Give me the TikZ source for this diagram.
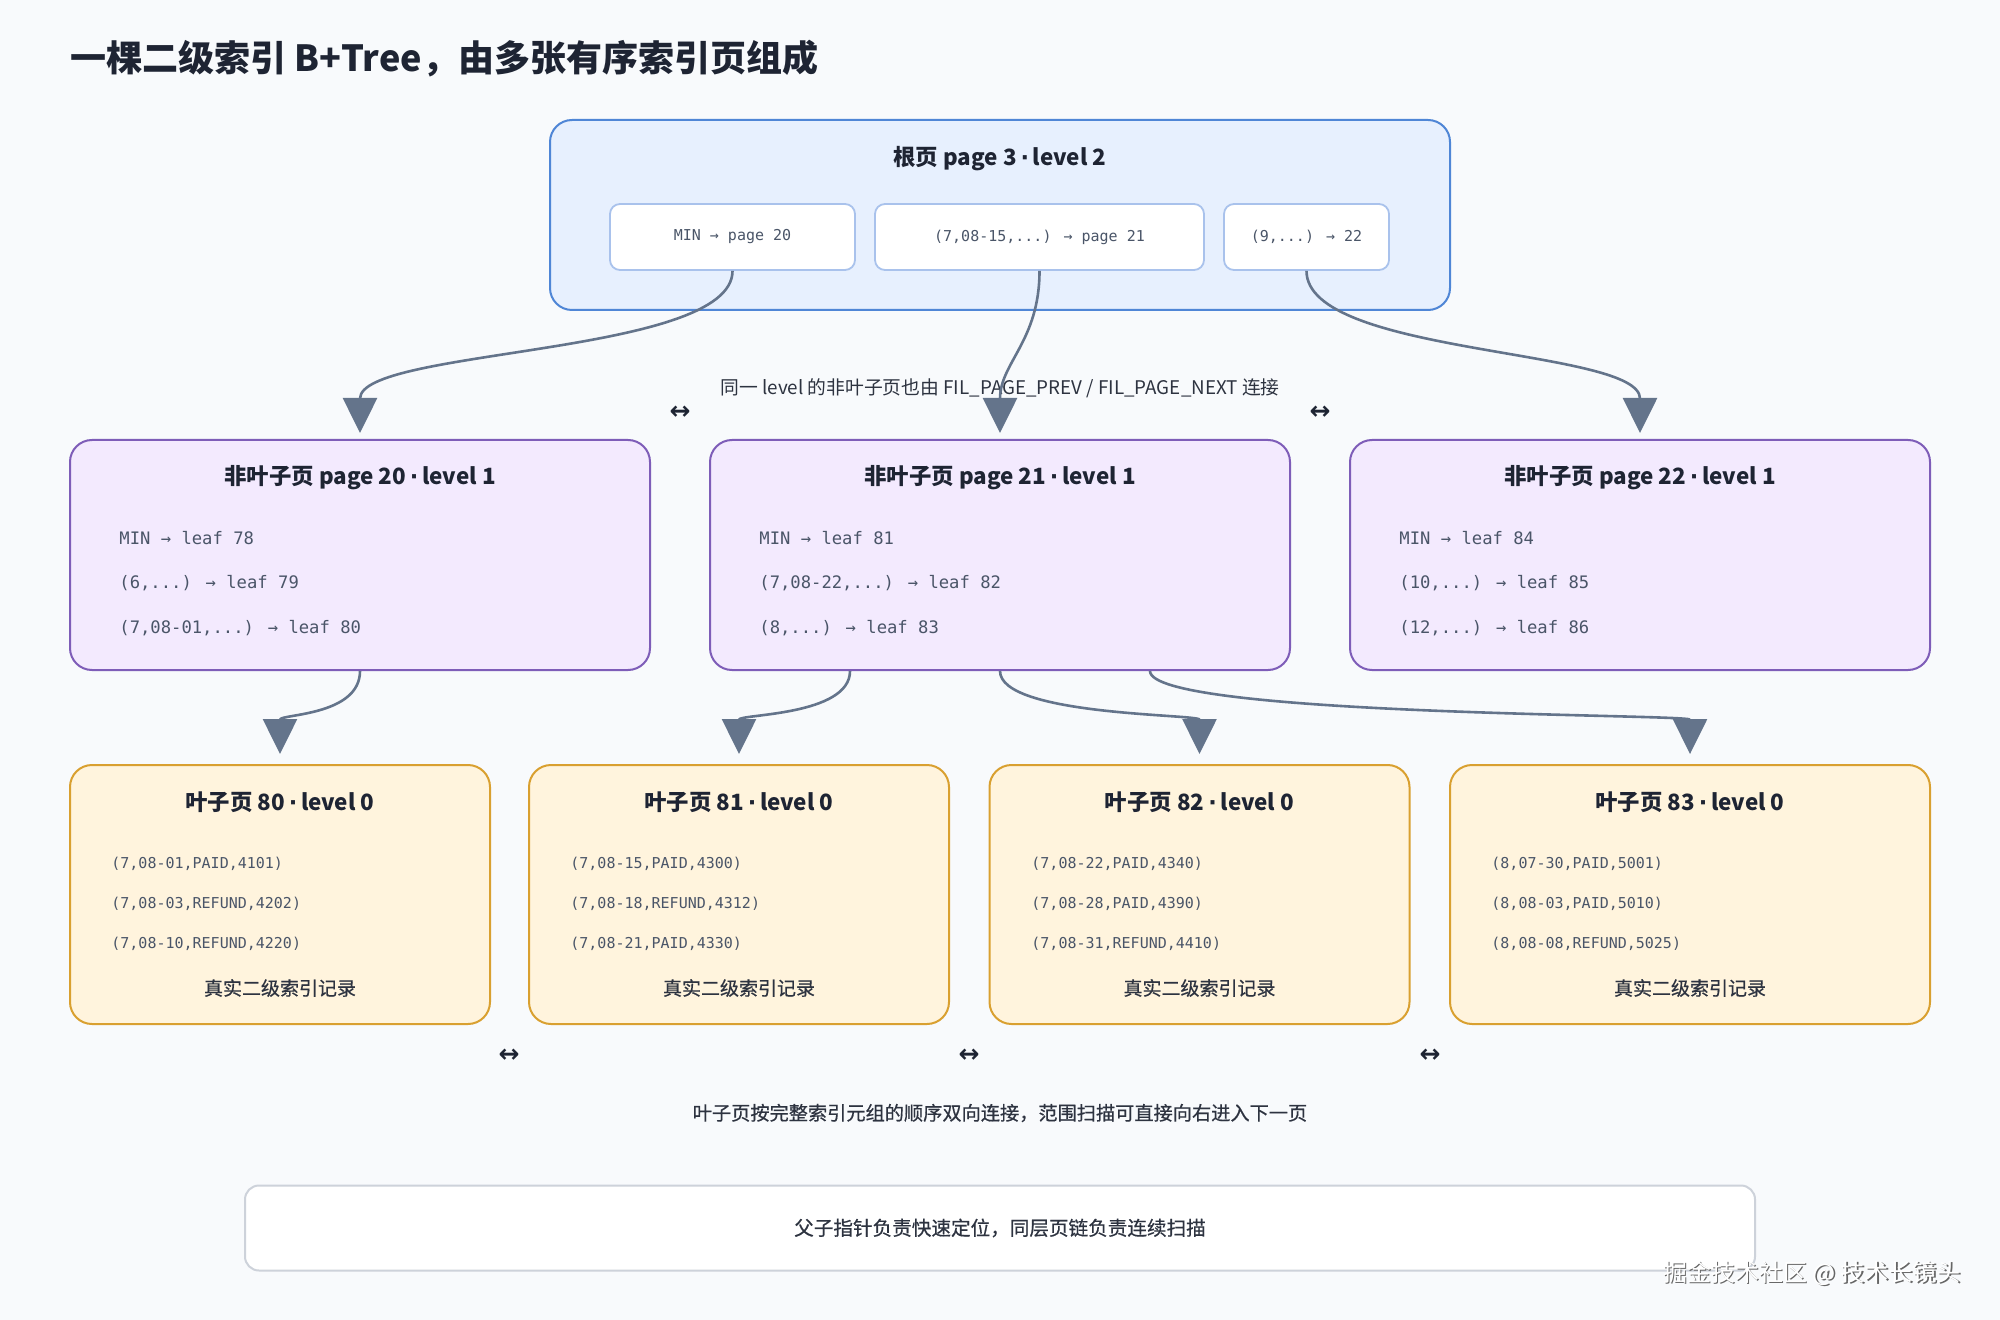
\documentclass[tikz,border=0pt]{standalone}
\usepackage{fontspec}
\setmainfont{Noto Sans CJK SC}
\newfontfamily\monof{DejaVu Sans Mono}
\newfontfamily\symf{DejaVu Sans}
\newfontfamily\semib{Noto Sans CJK SC}[FakeBold=0.6]
\usetikzlibrary{arrows.meta}
\definecolor{bgc}{HTML}{F8FAFC}
\definecolor{rootF}{HTML}{E7F0FE}
\definecolor{rootB}{HTML}{4F86D6}
\definecolor{keyB}{HTML}{A9C2EC}
\definecolor{midF}{HTML}{F3EAFE}
\definecolor{midB}{HTML}{7E5DB8}
\definecolor{leafF}{HTML}{FFF4DD}
\definecolor{leafB}{HTML}{D9A030}
\definecolor{connC}{HTML}{64748B}
\definecolor{titleC}{HTML}{1E2433}
\definecolor{monoC}{HTML}{4A5568}
\definecolor{noteC}{HTML}{2D3340}
\definecolor{botB}{HTML}{CDD2DA}
\newcommand{\dotsep}{\,{\symf\bfseries ·}\,}
\begin{document}
\begin{tikzpicture}[x=0.5pt,y=-0.5pt,
  rootbox/.style={draw=rootB, fill=rootF, line width=1pt, rounded corners=11pt, inner sep=0pt},
  keybox/.style={draw=keyB, fill=white, line width=0.9pt, rounded corners=5pt, inner sep=0pt, minimum height=33pt, font=\monof\fontsize{7.5}{9}\selectfont, text=monoC},
  midbox/.style={draw=midB, fill=midF, line width=1pt, rounded corners=11pt, inner sep=0pt, minimum width=290pt, minimum height=115pt},
  leafbox/.style={draw=leafB, fill=leafF, line width=1pt, rounded corners=11pt, inner sep=0pt, minimum height=129.5pt},
  boxtitle/.style={inner sep=0pt, font=\bfseries\fontsize{11.2}{13}\selectfont, text=titleC},
  midline/.style={anchor=west, inner sep=0pt, font=\monof\fontsize{8.6}{10}\selectfont, text=monoC},
  recline/.style={anchor=west, inner sep=0pt, font=\monof\fontsize{7.5}{9}\selectfont, text=monoC},
  recnote/.style={inner sep=0pt, font=\semib\fontsize{9.5}{11}\selectfont, text=noteC},
  linkmark/.style={inner sep=0pt, font=\symf\bfseries\fontsize{12.5}{14}\selectfont, text=titleC},
  conn/.style={draw=connC, line width=1.3pt, -{Triangle[length=17.5pt,width=17pt]}}
]
\fill[bgc] (0,0) rectangle (2000,1320);
\useasboundingbox (0,0) rectangle (2000,1320);

% title
\node[anchor=west, inner sep=0pt, font=\bfseries\fontsize{18}{21}\selectfont, text=titleC] (title) at (70,59) {一棵二级索引 B+Tree，由多张有序索引页组成};

% root page
\node[rootbox, minimum width=450pt, minimum height=95pt] (root) at (1000,215) {};
\node[boxtitle] (roott) at (1000,159) {根页 page 3\dotsep level 2};
\node[keybox, minimum width=122.5pt] (k1) at (732.5,237) {MIN → page 20};
\node[keybox, minimum width=164.5pt] (k2) at (1039.5,237) {(7,08-15,...) → page 21};
\node[keybox, minimum width=82.5pt] (k3) at (1306.5,237) {(9,...) → 22};

% level 1
\node[midbox] (p20) at (360,555) {};
\node[midbox] (p21) at (1000,555) {};
\node[midbox] (p22) at (1640,555) {};
\node[boxtitle] (p20t) at (360,478) {非叶子页 page 20\dotsep level 1};
\node[boxtitle] (p21t) at (1000,478) {非叶子页 page 21\dotsep level 1};
\node[boxtitle] (p22t) at (1640,478) {非叶子页 page 22\dotsep level 1};
\node[midline] (p20a) at (119,538) {MIN → leaf 78};
\node[midline] (p20b) at (119,583) {(6,...) → leaf 79};
\node[midline] (p20c) at (119,628) {(7,08-01,...) → leaf 80};
\node[midline] (p21a) at (759,538) {MIN → leaf 81};
\node[midline] (p21b) at (759,583) {(7,08-22,...) → leaf 82};
\node[midline] (p21c) at (759,628) {(8,...) → leaf 83};
\node[midline] (p22a) at (1399,538) {MIN → leaf 84};
\node[midline] (p22b) at (1399,583) {(10,...) → leaf 85};
\node[midline] (p22c) at (1399,628) {(12,...) → leaf 86};

% leaves
\node[leafbox, minimum width=210pt] (l80) at (280,894.5) {};
\node[leafbox, minimum width=210pt] (l81) at (739,894.5) {};
\node[leafbox, minimum width=210pt] (l82) at (1199.5,894.5) {};
\node[leafbox, minimum width=240pt] (l83) at (1690,894.5) {};
\node[boxtitle] (l80t) at (280,802) {叶子页 80\dotsep level 0};
\node[boxtitle] (l81t) at (739,802) {叶子页 81\dotsep level 0};
\node[boxtitle] (l82t) at (1199.5,802) {叶子页 82\dotsep level 0};
\node[boxtitle] (l83t) at (1690,802) {叶子页 83\dotsep level 0};

\node[recline] (r80a) at (111,864) {(7,08-01,PAID,4101)};
\node[recline] (r80b) at (111,904) {(7,08-03,REFUND,4202)};
\node[recline] (r80c) at (111,944) {(7,08-10,REFUND,4220)};
\node[recline] (r81a) at (570,864) {(7,08-15,PAID,4300)};
\node[recline] (r81b) at (570,904) {(7,08-18,REFUND,4312)};
\node[recline] (r81c) at (570,944) {(7,08-21,PAID,4330)};
\node[recline] (r82a) at (1031,864) {(7,08-22,PAID,4340)};
\node[recline] (r82b) at (1031,904) {(7,08-28,PAID,4390)};
\node[recline] (r82c) at (1031,944) {(7,08-31,REFUND,4410)};
\node[recline] (r83a) at (1491,864) {(8,07-30,PAID,5001)};
\node[recline] (r83b) at (1491,904) {(8,08-03,PAID,5010)};
\node[recline] (r83c) at (1491,944) {(8,08-08,REFUND,5025)};

\node[recnote] (n80) at (280,988) {真实二级索引记录};
\node[recnote] (n81) at (739,988) {真实二级索引记录};
\node[recnote] (n82) at (1199.5,988) {真实二级索引记录};
\node[recnote] (n83) at (1690,988) {真实二级索引记录};

% sibling link marks
\node[linkmark] (s1) at (680,413) {↔};
\node[linkmark] (s2) at (1320,413) {↔};
\node[linkmark] (s3) at (509,1056) {↔};
\node[linkmark] (s4) at (969,1056) {↔};
\node[linkmark] (s5) at (1430,1056) {↔};

% notes
\node[inner sep=0pt, font=\fontsize{9.4}{11}\selectfont, text=noteC] (note1) at (1000,388) {同一 level 的非叶子页也由 FIL\_PAGE\_PREV / FIL\_PAGE\_NEXT 连接};
\node[inner sep=0pt, font=\semib\fontsize{9.6}{11}\selectfont, text=noteC] (note2) at (1000,1113) {叶子页按完整索引元组的顺序双向连接，范围扫描可直接向右进入下一页};

\node[draw=botB, fill=white, line width=1pt, rounded corners=7pt, minimum width=755pt, minimum height=42.5pt, inner sep=0pt, font=\semib\fontsize{9.8}{12}\selectfont, text=noteC] (bottom) at (1000,1228) {父子指针负责快速定位，同层页链负责连续扫描};

% watermark
\node[inner sep=0pt, font=\fontsize{12}{14}\selectfont, text=black!60] (wms) at (1813.5,1274.5) {掘金技术社区 @ 技术长镜头};
\node[inner sep=0pt, font=\fontsize{12}{14}\selectfont, text=white] (wm) at (1812,1273) {掘金技术社区 @ 技术长镜头};

% connectors root -> level 1
\draw[conn] (k1.south) .. controls +(0,85) and +(0,-85) .. ([yshift=3pt]p20.north);
\draw[conn] (k2.south) .. controls +(0,70) and +(0,-70) .. ([yshift=3pt]p21.north);
\draw[conn] (k3.south) .. controls +(0,85) and +(0,-85) .. ([yshift=3pt]p22.north);

% connectors level 1 -> leaves
\draw[conn] (p20.south) .. controls +(0,45) and +(0,-40) .. ([yshift=5pt]l80.north);
\draw[conn] ([xshift=-75pt]p21.south) .. controls +(0,45) and +(0,-40) .. ([yshift=5pt]l81.north);
\draw[conn] (p21.south) .. controls +(0,45) and +(0,-40) .. ([yshift=5pt]l82.north);
\draw[conn] ([xshift=75pt]p21.south) .. controls +(0,45) and +(0,-40) .. ([yshift=5pt]l83.north);
\end{tikzpicture}
\end{document}
